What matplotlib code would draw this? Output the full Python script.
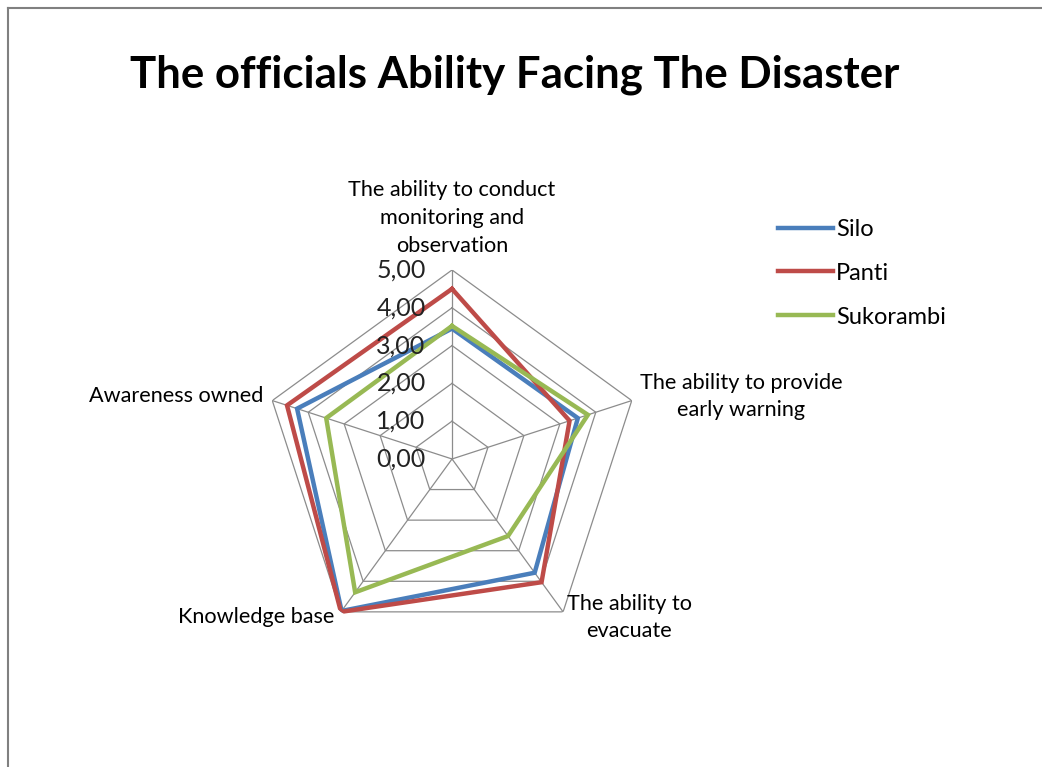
import numpy as np
import matplotlib
matplotlib.use("Agg")
import matplotlib.pyplot as plt
from matplotlib.lines import Line2D

categories = ["The ability to conduct\nmonitoring and\nobservation",
              "The ability to provide\nearly warning",
              "The ability to\nevacuate",
              "Knowledge base",
              "Awareness owned"]
series_names = ["Silo", "Panti", "Sukorambi"]
silo = [3.45, 3.50, 3.72, 4.97, 4.31]
panti = [4.50, 3.27, 4.03, 5.00, 4.59]
sukorambi = [3.52, 3.78, 2.52, 4.36, 3.50]
tick_values = [0, 1, 2, 3, 4, 5]
tick_labels = ["0,00", "1,00", "2,00", "3,00", "4,00", "5,00"]
colors = ["#4A7EBB", "#BE4B48", "#98B954"]

plt.rcParams['font.family'] = ['Lato', 'DejaVu Sans']

fig = plt.figure(figsize=(10.42, 7.67), dpi=100)
# outer border (chart area)
fig.add_artist(Line2D([0.008, 0.008], [0.0, 0.99], color="#808080", lw=1.5, transform=fig.transFigure))
fig.add_artist(Line2D([0.008, 1.0], [0.99, 0.99], color="#808080", lw=1.5, transform=fig.transFigure))

fig.text(0.494, 0.903, "The officials Ability Facing The Disaster", ha="center", va="center",
         fontsize=31.5, fontweight="bold")

ax = fig.add_axes([0.2524, 0.1552, 0.3628, 0.4928], projection="polar")
ax.set_theta_offset(np.pi / 2)
ax.set_theta_direction(-1)
ax.set_ylim(0, 5)
ax.grid(False)
ax.spines["polar"].set_visible(False)
ax.set_xticks([])
ax.set_yticks([])
ax.patch.set_alpha(0)

n = len(categories)
angles = np.linspace(0, 2 * np.pi, n, endpoint=False)
closed = np.concatenate([angles, angles[:1]])

for r in tick_values[1:]:
    ax.plot(closed, [r] * (n + 1), color="#8C8C8C", lw=0.9, zorder=1)
for a in angles:
    ax.plot([a, a], [0, 5], color="#8C8C8C", lw=0.9, zorder=1)

for vals, name, c in zip([silo, panti, sukorambi], series_names, colors):
    v = list(vals) + [vals[0]]
    ax.plot(closed, v, color=c, lw=3.2, label=name, zorder=3, solid_joinstyle="miter")

for r, lab in zip(tick_values, tick_labels):
    ax.annotate(lab, xy=(0, r), xytext=(-19, 0), textcoords="offset points",
                ha="right", va="center", fontsize=18, color="#222222", zorder=4,
                annotation_clip=False)

fs = 15.6
ax.annotate(categories[0], xy=(0, 5), xytext=(0, 10), textcoords="offset points",
            ha="center", va="bottom", fontsize=fs, linespacing=1.5, annotation_clip=False)
ax.annotate(categories[1], xy=(angles[1], 5), xytext=(79, 3), textcoords="offset points",
            ha="center", va="center", fontsize=fs, linespacing=1.4, annotation_clip=False)
ax.annotate(categories[2], xy=(angles[2], 5), xytext=(47.5, -4), textcoords="offset points",
            ha="center", va="center", fontsize=fs, linespacing=1.4, annotation_clip=False)
ax.annotate(categories[3], xy=(angles[3], 5), xytext=(-5, -4), textcoords="offset points",
            ha="right", va="center", fontsize=fs, annotation_clip=False)
ax.annotate(categories[4], xy=(angles[4], 5), xytext=(-6.5, 3.6), textcoords="offset points",
            ha="right", va="center", fontsize=fs, annotation_clip=False)

fig.legend(loc="upper left", bbox_to_anchor=(0.738, 0.727), frameon=False, fontsize=17,
           handlelength=2.3, handletextpad=0.15, labelspacing=0.97, borderaxespad=0)

fig.savefig("out.png", dpi=100)
